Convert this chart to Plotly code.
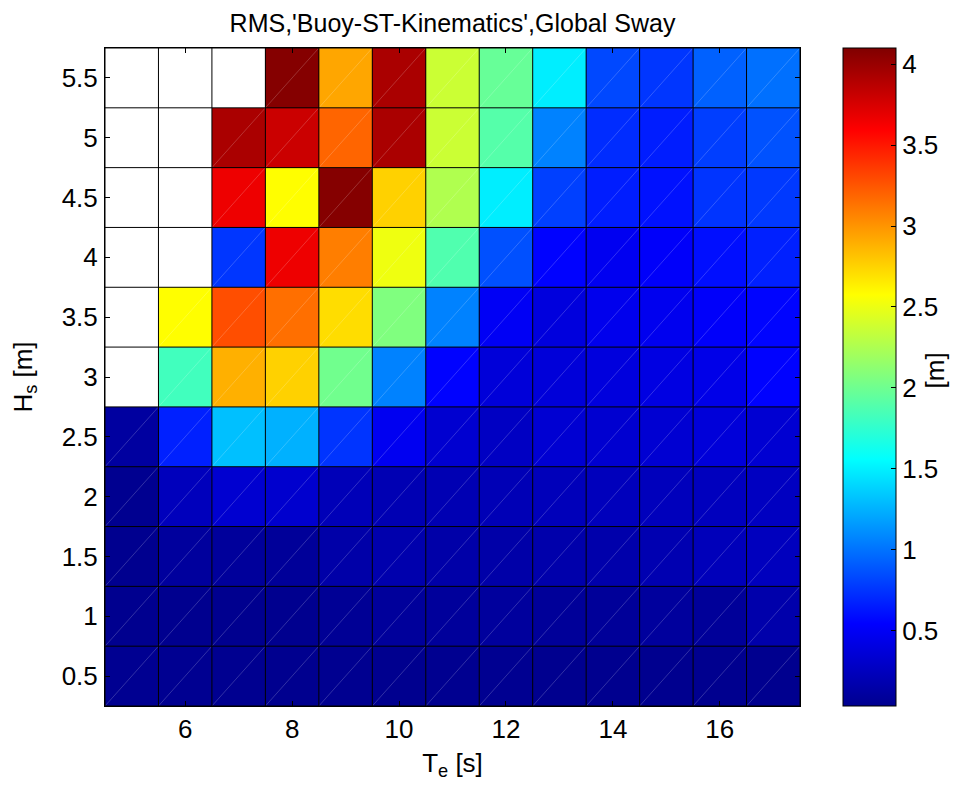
import numpy as np
import plotly.graph_objects as go

# ---------------- data ----------------
te = [5, 6, 7, 8, 9, 10, 11, 12, 13, 14, 15, 16, 17]            # Te [s]
hs = [0.5, 1.0, 1.5, 2.0, 2.5, 3.0, 3.5, 4.0, 4.5, 5.0, 5.5]     # Hs [m]
nan = None

# RMS global sway [m], one list per Hs row (bottom -> top), columns follow te
sway_hs_0_5 = [0.045, 0.045, 0.04, 0.035, 0.04, 0.035, 0.04, 0.045, 0.035, 0.035, 0.03, 0.035, 0.03]
sway_hs_1_0 = [0.03, 0.03, 0.03, 0.03, 0.06, 0.09, 0.09, 0.10, 0.08, 0.08, 0.10, 0.08, 0.16]
sway_hs_1_5 = [0.03, 0.10, 0.09, 0.08, 0.15, 0.17, 0.15, 0.15, 0.16, 0.16, 0.19, 0.23, 0.25]
sway_hs_2_0 = [0.04, 0.24, 0.33, 0.32, 0.22, 0.20, 0.20, 0.21, 0.23, 0.24, 0.24, 0.25, 0.26]
sway_hs_2_5 = [0.11, 0.67, 1.31, 1.25, 0.75, 0.48, 0.33, 0.27, 0.34, 0.33, 0.34, 0.37, 0.34]
sway_hs_3_0 = [nan, 1.82, 2.89, 2.76, 2.01, 1.06, 0.55, 0.37, 0.37, 0.39, 0.41, 0.44, 0.55]
sway_hs_3_5 = [nan, 2.58, 3.28, 3.15, 2.71, 2.07, 1.06, 0.50, 0.39, 0.46, 0.47, 0.52, 0.56]
sway_hs_4_0 = [nan, nan, 0.76, 3.66, 3.09, 2.51, 1.88, 0.86, 0.55, 0.48, 0.52, 0.60, 0.67]
sway_hs_4_5 = [nan, nan, 3.66, 2.58, 4.08, 2.76, 2.26, 1.49, 0.80, 0.66, 0.61, 0.75, 0.77]
sway_hs_5_0 = [nan, nan, 3.93, 3.80, 3.19, 3.93, 2.37, 1.90, 1.06, 0.72, 0.66, 0.79, 0.87]
sway_hs_5_5 = [nan, nan, nan, 4.08, 2.93, 3.93, 2.37, 1.97, 1.49, 0.83, 0.76, 0.93, 0.99]

sway = [sway_hs_0_5, sway_hs_1_0, sway_hs_1_5, sway_hs_2_0, sway_hs_2_5, sway_hs_3_0,
        sway_hs_3_5, sway_hs_4_0, sway_hs_4_5, sway_hs_5_0, sway_hs_5_5]

x_tickvals = [6, 8, 10, 12, 14, 16]
y_tickvals = hs
cbar_tickvals = [0.5, 1, 1.5, 2, 2.5, 3, 3.5, 4]
c_min, c_max = 0.035, 4.1

title_text = "RMS,'Buoy-ST-Kinematics',Global Sway"
x_title = "T<sub>e</sub> [s]"
y_title = "H<sub>s</sub> [m]"
cbar_title = "[m]"

# ---------------- style ----------------
FONT = "Liberation Sans, Arial, Helvetica, sans-serif"
FS = 26
jet = [[0.0, "rgb(0,0,143)"], [0.125, "rgb(0,0,255)"], [0.375, "rgb(0,255,255)"],
       [0.625, "rgb(255,255,0)"], [0.875, "rgb(255,0,0)"], [1.0, "rgb(128,0,0)"]]

W, H = 980, 787
OFF = 8  # page body margin shifts the figure by this much
L, R, T, B = 105 - OFF, 180 + OFF, 48 - OFF, 81 + OFF
plot_w = W - L - R

fig = go.Figure()

fig.add_trace(go.Heatmap(
    x=te, y=hs, z=sway,
    colorscale=jet, zmin=c_min, zmax=c_max,
    hoverongaps=False,
    colorbar=dict(
        x=(843 - OFF - L) / plot_w, xanchor="left", xpad=0, ypad=0,
        y=0.5, yanchor="middle", len=1, lenmode="fraction",
        thickness=53, outlinewidth=1, outlinecolor="black",
        tickvals=cbar_tickvals, ticks="inside", ticklen=5, tickcolor="black",
        tickfont=dict(family=FONT, size=FS, color="black"),
    ),
))

# faint diagonal rendering lines inside each filled cell, and black cell edges
te_a = np.array(te, dtype=float)
hs_a = np.array(hs, dtype=float)
x_edges = np.concatenate([[te_a[0] - (te_a[1] - te_a[0]) / 2], (te_a[:-1] + te_a[1:]) / 2,
                          [te_a[-1] + (te_a[-1] - te_a[-2]) / 2]])
y_edges = np.concatenate([[hs_a[0] - (hs_a[1] - hs_a[0]) / 2], (hs_a[:-1] + hs_a[1:]) / 2,
                          [hs_a[-1] + (hs_a[-1] - hs_a[-2]) / 2]])

dx, dy = [], []
for j in range(len(hs)):
    for i in range(len(te)):
        if sway[j][i] is not None:
            dx += [x_edges[i], x_edges[i + 1], None]
            dy += [y_edges[j], y_edges[j + 1], None]
fig.add_trace(go.Scatter(x=dx, y=dy, mode="lines", hoverinfo="skip", showlegend=False,
                         line=dict(color="rgba(255,255,255,0.28)", width=0.7)))

gx, gy = [], []
for xe in x_edges:
    gx += [xe, xe, None]
    gy += [y_edges[0], y_edges[-1], None]
for ye in y_edges:
    gx += [x_edges[0], x_edges[-1], None]
    gy += [ye, ye, None]
fig.add_trace(go.Scatter(x=gx, y=gy, mode="lines", hoverinfo="skip", showlegend=False,
                         line=dict(color="black", width=1)))

axis_common = dict(
    showgrid=False, zeroline=False, showline=True, linecolor="black", linewidth=1,
    mirror="ticks", ticks="inside", ticklen=5, tickcolor="black",
    tickfont=dict(family=FONT, size=FS, color="black"),
)

fig.update_layout(
    width=W, height=H,
    margin=dict(l=L, r=R, t=T, b=B, pad=0),
    paper_bgcolor="white", plot_bgcolor="white",
    showlegend=False,
    font=dict(family=FONT, size=FS, color="black"),
    title=dict(text=title_text, x=0.5, xref="paper", xanchor="center",
               y=1 - (23 - OFF) / H, yref="container", yanchor="middle",
               font=dict(family=FONT, size=25, color="black")),
    xaxis=dict(range=[x_edges[0], x_edges[-1]], tickvals=x_tickvals,
               ticklabelstandoff=0,
               title=dict(text=x_title, standoff=10,
                          font=dict(family=FONT, size=FS, color="black")),
               **axis_common),
    yaxis=dict(range=[y_edges[0], y_edges[-1]], tickvals=y_tickvals,
               ticklabelstandoff=1,
               title=dict(text=y_title, standoff=23,
                          font=dict(family=FONT, size=FS, color="black")),
               **axis_common),
    annotations=[dict(text=cbar_title, textangle=-90, showarrow=False,
                      xref="paper", yref="paper", x=(935 - OFF - L) / plot_w, y=0.51,
                      xanchor="center", yanchor="middle",
                      font=dict(family=FONT, size=FS, color="black"))],
)

fig.write_html("out.html")
